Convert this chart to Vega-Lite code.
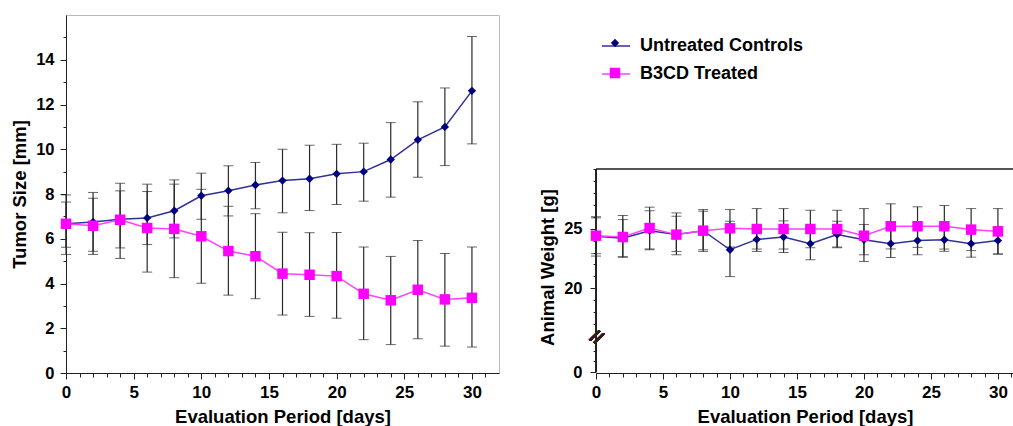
{
  "$schema": "https://vega.github.io/schema/vega-lite/v6.json",
  "padding": {"left": 10, "top": 14, "right": 0, "bottom": 0},
  "background": "white",
  "config": {
    "font": "Liberation Sans",
    "axis": {"labelFont": "Liberation Sans", "labelFontSize": 16.5, "labelFontWeight": "bold", "labelColor": "#000", "titleFont": "Liberation Sans", "titleFontSize": 18.5, "titleFontWeight": "bold", "titleColor": "#000", "domainColor": "#222", "tickColor": "#222", "grid": false, "labelOverlap": false}
  },
  "datasets": {
    "tumor": [
      {"day": 0, "group": "Untreated Controls", "mean": 6.67, "lo": 5.62, "hi": 7.64},
      {"day": 2, "group": "Untreated Controls", "mean": 6.75, "lo": 5.44, "hi": 8.07},
      {"day": 4, "group": "Untreated Controls", "mean": 6.87, "lo": 5.59, "hi": 8.14},
      {"day": 6, "group": "Untreated Controls", "mean": 6.93, "lo": 5.74, "hi": 8.11},
      {"day": 8, "group": "Untreated Controls", "mean": 7.25, "lo": 6.04, "hi": 8.44},
      {"day": 10, "group": "Untreated Controls", "mean": 7.92, "lo": 6.87, "hi": 8.93},
      {"day": 12, "group": "Untreated Controls", "mean": 8.15, "lo": 7.02, "hi": 9.26},
      {"day": 14, "group": "Untreated Controls", "mean": 8.4, "lo": 7.34, "hi": 9.41},
      {"day": 16, "group": "Untreated Controls", "mean": 8.6, "lo": 7.16, "hi": 10.0},
      {"day": 18, "group": "Untreated Controls", "mean": 8.68, "lo": 7.26, "hi": 10.18},
      {"day": 20, "group": "Untreated Controls", "mean": 8.9, "lo": 7.53, "hi": 10.22},
      {"day": 22, "group": "Untreated Controls", "mean": 9.0, "lo": 7.68, "hi": 10.27},
      {"day": 24, "group": "Untreated Controls", "mean": 9.54, "lo": 7.86, "hi": 11.19},
      {"day": 26, "group": "Untreated Controls", "mean": 10.42, "lo": 8.75, "hi": 12.12},
      {"day": 28, "group": "Untreated Controls", "mean": 11.0, "lo": 9.27, "hi": 12.74},
      {"day": 30, "group": "Untreated Controls", "mean": 12.61, "lo": 10.24, "hi": 15.04},
      {"day": 0, "group": "B3CD Treated", "mean": 6.67, "lo": 5.3, "hi": 7.96},
      {"day": 2, "group": "B3CD Treated", "mean": 6.58, "lo": 5.3, "hi": 7.81},
      {"day": 4, "group": "B3CD Treated", "mean": 6.85, "lo": 5.12, "hi": 8.48},
      {"day": 6, "group": "B3CD Treated", "mean": 6.48, "lo": 4.51, "hi": 8.44},
      {"day": 8, "group": "B3CD Treated", "mean": 6.44, "lo": 4.26, "hi": 8.63},
      {"day": 10, "group": "B3CD Treated", "mean": 6.11, "lo": 4.01, "hi": 8.21},
      {"day": 12, "group": "B3CD Treated", "mean": 5.45, "lo": 3.48, "hi": 7.45},
      {"day": 14, "group": "B3CD Treated", "mean": 5.22, "lo": 3.32, "hi": 7.12},
      {"day": 16, "group": "B3CD Treated", "mean": 4.44, "lo": 2.59, "hi": 6.29},
      {"day": 18, "group": "B3CD Treated", "mean": 4.39, "lo": 2.53, "hi": 6.27},
      {"day": 20, "group": "B3CD Treated", "mean": 4.33, "lo": 2.45, "hi": 6.28},
      {"day": 22, "group": "B3CD Treated", "mean": 3.54, "lo": 1.49, "hi": 5.63},
      {"day": 24, "group": "B3CD Treated", "mean": 3.25, "lo": 1.27, "hi": 5.21},
      {"day": 26, "group": "B3CD Treated", "mean": 3.72, "lo": 1.53, "hi": 5.92},
      {"day": 28, "group": "B3CD Treated", "mean": 3.29, "lo": 1.2, "hi": 5.34},
      {"day": 30, "group": "B3CD Treated", "mean": 3.36, "lo": 1.16, "hi": 5.63}
    ],
    "weight": [
      {"day": 0, "group": "Untreated Controls", "mean": 24.36, "lo": 22.7, "hi": 26.0},
      {"day": 2, "group": "Untreated Controls", "mean": 24.2, "lo": 22.65, "hi": 25.76},
      {"day": 4, "group": "Untreated Controls", "mean": 24.83, "lo": 23.23, "hi": 26.5},
      {"day": 6, "group": "Untreated Controls", "mean": 24.5, "lo": 23.09, "hi": 26.04},
      {"day": 8, "group": "Untreated Controls", "mean": 24.83, "lo": 23.23, "hi": 26.46},
      {"day": 10, "group": "Untreated Controls", "mean": 23.23, "lo": 20.98, "hi": 25.62},
      {"day": 12, "group": "Untreated Controls", "mean": 24.1, "lo": 23.09, "hi": 25.1},
      {"day": 14, "group": "Untreated Controls", "mean": 24.3, "lo": 23.0, "hi": 25.65},
      {"day": 16, "group": "Untreated Controls", "mean": 23.74, "lo": 22.39, "hi": 25.1},
      {"day": 18, "group": "Untreated Controls", "mean": 24.5, "lo": 23.4, "hi": 25.62},
      {"day": 20, "group": "Untreated Controls", "mean": 24.07, "lo": 22.81, "hi": 25.35},
      {"day": 22, "group": "Untreated Controls", "mean": 23.74, "lo": 22.58, "hi": 24.9},
      {"day": 24, "group": "Untreated Controls", "mean": 24.0, "lo": 22.81, "hi": 25.2},
      {"day": 26, "group": "Untreated Controls", "mean": 24.07, "lo": 23.1, "hi": 25.0},
      {"day": 28, "group": "Untreated Controls", "mean": 23.74, "lo": 22.61, "hi": 24.87},
      {"day": 30, "group": "Untreated Controls", "mean": 24.0, "lo": 22.87, "hi": 25.17},
      {"day": 0, "group": "B3CD Treated", "mean": 24.41, "lo": 22.9, "hi": 25.9},
      {"day": 2, "group": "B3CD Treated", "mean": 24.3, "lo": 22.6, "hi": 26.1},
      {"day": 4, "group": "B3CD Treated", "mean": 25.05, "lo": 23.3, "hi": 26.8},
      {"day": 6, "group": "B3CD Treated", "mean": 24.5, "lo": 22.81, "hi": 26.32},
      {"day": 8, "group": "B3CD Treated", "mean": 24.83, "lo": 23.09, "hi": 26.6},
      {"day": 10, "group": "B3CD Treated", "mean": 25.03, "lo": 23.46, "hi": 26.6},
      {"day": 12, "group": "B3CD Treated", "mean": 24.97, "lo": 23.29, "hi": 26.68},
      {"day": 14, "group": "B3CD Treated", "mean": 24.97, "lo": 23.29, "hi": 26.68},
      {"day": 16, "group": "B3CD Treated", "mean": 24.97, "lo": 23.4, "hi": 26.54},
      {"day": 18, "group": "B3CD Treated", "mean": 24.97, "lo": 23.46, "hi": 26.54},
      {"day": 20, "group": "B3CD Treated", "mean": 24.41, "lo": 22.25, "hi": 26.68},
      {"day": 22, "group": "B3CD Treated", "mean": 25.2, "lo": 23.3, "hi": 27.08},
      {"day": 24, "group": "B3CD Treated", "mean": 25.2, "lo": 23.43, "hi": 26.83},
      {"day": 26, "group": "B3CD Treated", "mean": 25.2, "lo": 23.29, "hi": 26.94},
      {"day": 28, "group": "B3CD Treated", "mean": 24.92, "lo": 23.16, "hi": 26.68},
      {"day": 30, "group": "B3CD Treated", "mean": 24.77, "lo": 22.87, "hi": 26.68}
    ]
  },
  "spacing": 38,
  "resolve": {"legend": {"color": "independent", "shape": "independent", "size": "independent", "stroke": "independent"}},
  "hconcat": [
    {
      "width": 433,
      "height": 358,
      "data": {"name": "tumor"},
      "view": {"stroke": "#b8b8b8"},
      "encoding": {
        "x": {"field": "day", "type": "quantitative", "scale": {"domain": [0, 32], "nice": false},
          "axis": {"title": "Evaluation Period [days]", "values": [0,1,2,3,4,5,6,7,8,9,10,11,12,13,14,15,16,17,18,19,20,21,22,23,24,25,26,27,28,29,30,31],
            "format": "d", "labelExpr": "datum.value % 5 === 0 ? datum.label : ''", "tickCount": 100,
            "tickSize": {"condition": {"test": "datum.value % 5 === 0", "value": 6}, "value": 4},
            "labelFontSize": 17, "labelPadding": 5, "titlePadding": 7, "labelFlush": false}}
      },
      "layer": [
        {
          "mark": {"type": "errorbar", "ticks": {"size": 10, "color": "#2a2a2a"}, "rule": {"color": "#2a2a2a", "strokeWidth": 1.2}},
          "encoding": {
            "y": {"field": "lo", "type": "quantitative", "title": "Tumor Size [mm]", "scale": {"domain": [0, 16], "nice": false, "zero": false},
              "axis": {"title": "Tumor Size [mm]", "values": [0,1,2,3,4,5,6,7,8,9,10,11,12,13,14,15], "tickCount": 100, "format": "d",
                "labelExpr": "datum.value % 2 === 0 ? datum.label : ''",
                "tickSize": {"condition": {"test": "datum.value % 2 === 0", "value": 6}, "value": 3},
                "labelPadding": 6, "titlePadding": 6, "labelOverlap": false}},
            "y2": {"field": "hi"}
          }
        },
        {
          "mark": {"type": "line", "strokeWidth": 1.5},
          "encoding": {
            "y": {"field": "mean", "type": "quantitative", "title": "Tumor Size [mm]"},
            "stroke": {"field": "group", "type": "nominal", "scale": {"domain": ["Untreated Controls", "B3CD Treated"], "range": ["#30309a", "#ff40ff"]}, "legend": null}
          }
        },
        {
          "mark": {"type": "point", "filled": true, "opacity": 1},
          "encoding": {
            "y": {"field": "mean", "type": "quantitative", "title": "Tumor Size [mm]"},
            "color": {"field": "group", "type": "nominal", "scale": {"domain": ["Untreated Controls", "B3CD Treated"], "range": ["#000080", "#ff00ff"]}, "legend": null},
            "shape": {"field": "group", "type": "nominal", "scale": {"domain": ["Untreated Controls", "B3CD Treated"], "range": ["diamond", "square"]}, "legend": null},
            "size": {"field": "group", "type": "nominal", "scale": {"domain": ["Untreated Controls", "B3CD Treated"], "range": [70, 110]}, "legend": null}
          }
        }
      ]
    },
    {
      "width": 418,
      "height": 358,
      "data": {"name": "weight"},
      "view": {"stroke": null},
      "encoding": {
        "x": {"field": "day", "type": "quantitative", "scale": {"domain": [0, 31.2], "nice": false},
          "axis": {"title": "Evaluation Period [days]", "values": [0,1,2,3,4,5,6,7,8,9,10,11,12,13,14,15,16,17,18,19,20,21,22,23,24,25,26,27,28,29,30,31],
            "format": "d", "labelExpr": "datum.value % 5 === 0 ? datum.label : ''", "tickCount": 100,
            "tickSize": {"condition": {"test": "datum.value % 5 === 0", "value": 6}, "value": 4},
            "labelFontSize": 17, "labelPadding": 5, "titlePadding": 7, "labelFlush": false}}
      },
      "layer": [
        {
          "mark": {"type": "rule", "color": "#555", "strokeWidth": 1.5},
          "encoding": {"y": {"datum": 30, "type": "quantitative"}, "x": {"datum": 0, "type": "quantitative"}, "x2": {"datum": 31.2}}
        },
        {
          "mark": {"type": "rule", "color": "#222", "strokeWidth": 1},
          "encoding": {"x": {"datum": 0, "type": "quantitative"}, "y": {"datum": 0, "type": "quantitative"}, "y2": {"datum": 30}}
        },
        {
          "mark": {"type": "errorbar", "ticks": {"size": 10, "color": "#2a2a2a"}, "rule": {"color": "#2a2a2a", "strokeWidth": 1.2}},
          "encoding": {
            "y": {"field": "lo", "type": "quantitative", "title": "Animal Weight [g]", "scale": {"domain": [0, 3, 16, 30], "range": [357, 325, 321, 154], "nice": false, "zero": false},
              "axis": {"title": "Animal Weight [g]", "titleY": 252, "domain": false, "values": [0,1,2,17,18,19,20,21,22,23,24,25,26,27,28,29,30], "tickCount": 100, "format": "d",
                "labelExpr": "datum.value === 0 || datum.value === 20 || datum.value === 25 ? datum.label : ''",
                "tickSize": {"condition": {"test": "datum.value === 0 || datum.value === 20 || datum.value === 25", "value": 6}, "value": 3},
                "labelPadding": 8, "titlePadding": 6, "labelOverlap": false}},
            "y2": {"field": "hi"}
          }
        },
        {
          "mark": {"type": "line", "strokeWidth": 1.5},
          "encoding": {
            "y": {"field": "mean", "type": "quantitative", "title": "Animal Weight [g]"},
            "stroke": {"field": "group", "type": "nominal", "scale": {"domain": ["Untreated Controls", "B3CD Treated", " "], "range": ["#30309a", "#ff40ff", "#999"]},
              "legend": {"title": null, "values": ["Untreated Controls", "B3CD Treated"], "orient": "none", "legendX": -11, "legendY": 0, "direction": "vertical", "padding": 16, "rowPadding": 4, "symbolSize": 784, "labelLimit": 300,
                "symbolType": "stroke", "symbolStrokeWidth": 1.5, "zindex": 1,
                "labelFontSize": 18, "labelFontWeight": "bold", "labelFont": "Liberation Sans", "labelColor": "#000", "labelOffset": 9}}
          }
        },
        {
          "mark": {"type": "point", "filled": true, "opacity": 1},
          "encoding": {
            "y": {"field": "mean", "type": "quantitative", "title": "Animal Weight [g]"},
            "color": {"field": "group", "type": "nominal", "scale": {"domain": ["Untreated Controls", "B3CD Treated"], "range": ["#000080", "#ff00ff"]},
              "legend": {"title": null, "orient": "none", "legendX": -6, "legendY": 3, "direction": "vertical", "padding": 16, "rowPadding": 12, "symbolSize": 784, "labelLimit": 300, "zindex": 2,
                "labelFontSize": 18, "labelFontWeight": "bold", "labelFont": "Liberation Sans", "labelColor": "#000", "labelOpacity": 0, "labelExpr": "''", "labelOffset": 9,
                "encoding": {"symbols": {
                  "shape": {"condition": {"test": "datum.value === 'Untreated Controls'", "value": "M0,-0.3L0.3,0L0,0.3L-0.3,0Z"}, "value": "M-0.3,-0.3L0.3,-0.3L0.3,0.3L-0.3,0.3Z"},
                  "opacity": {"value": 1}
                }}}},
            "shape": {"field": "group", "type": "nominal", "scale": {"domain": ["Untreated Controls", "B3CD Treated"], "range": ["diamond", "square"]}, "legend": null},
            "size": {"field": "group", "type": "nominal", "scale": {"domain": ["Untreated Controls", "B3CD Treated"], "range": [70, 110]}, "legend": null}
          }
        },
        {
          "mark": {"type": "text", "text": "//", "fontSize": 18, "fontWeight": "bold", "angle": 35, "fill": "#222", "font": "Liberation Sans"},
          "encoding": {"x": {"datum": 0, "type": "quantitative"}, "y": {"datum": 9.5, "type": "quantitative"}}
        }
      ]
    }
  ]
}
